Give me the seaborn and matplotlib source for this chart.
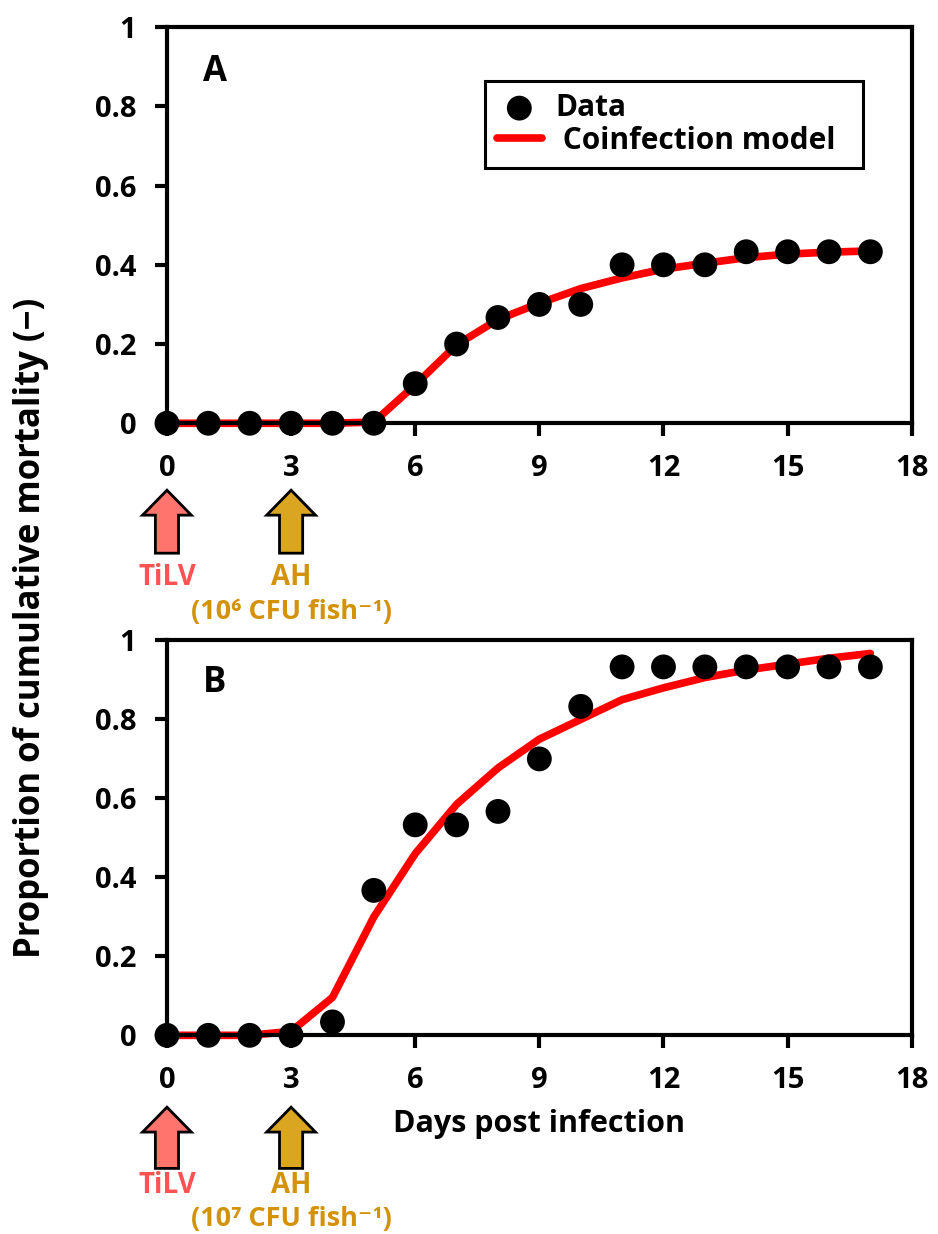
import numpy as np
import pandas as pd
import matplotlib.pyplot as plt
import seaborn as sns
from matplotlib.patches import FancyArrow
from matplotlib.transforms import blended_transform_factory

# data
days = list(range(18))
dataA = [0, 0, 0, 0, 0, 0, 0.1, 0.2, 0.267, 0.3, 0.3, 0.4, 0.4, 0.4, 0.433, 0.433, 0.433, 0.433]
modelA = [0, 0, 0, 0, 0, 0.003, 0.097, 0.198, 0.262, 0.303, 0.34, 0.367, 0.389, 0.404, 0.418, 0.427, 0.432, 0.435]
dataB = [0, 0, 0, 0, 0.034, 0.367, 0.533, 0.533, 0.567, 0.7, 0.833, 0.933, 0.933, 0.933, 0.933, 0.933, 0.933, 0.933]
modelB = [0, 0, 0, 0.01, 0.096, 0.3, 0.46, 0.585, 0.677, 0.75, 0.80, 0.85, 0.88, 0.906, 0.925, 0.94, 0.955, 0.967]
doses = ['(10\u2076 CFU fish\u207b\u00b9)', '(10\u2077 CFU fish\u207b\u00b9)']

sns.set_style('ticks', rc={'text.color': 'black', 'axes.labelcolor': 'black',
                           'xtick.color': 'black', 'ytick.color': 'black',
                           'axes.edgecolor': 'black'})
plt.rcParams['font.family'] = ['Open Sans', 'DejaVu Sans']
plt.rcParams['font.weight'] = 'bold'
plt.rcParams['font.size'] = 21

fig = plt.figure(figsize=(9.38, 12.34), dpi=100)
axA = fig.add_axes([0.178, 0.657, 0.794, 0.321])
axB = fig.add_axes([0.178, 0.161, 0.794, 0.320])

salmon = '#FF756E'
gold = '#DAA520'

panels = [(axA, dataA, modelA, 'A', 0.886, doses[0], (-0.169, -0.328), (-0.389, -0.477)),
          (axB, dataB, modelB, 'B', 0.893, doses[1], (-0.182, -0.337), (-0.38, -0.464))]

for ax, d, m, letter, ly, dose, arr, txt in panels:
    df = pd.DataFrame({'day': days, 'data': d, 'model': m})
    sns.lineplot(data=df, x='day', y='model', ax=ax, color='red', linewidth=5.5,
                 label=' Coinfection model  ', clip_on=False, zorder=2)
    sns.scatterplot(data=df, x='day', y='data', ax=ax, color='black', s=320,
                    label='Data', clip_on=False, zorder=3, edgecolor='none')
    ax.set_xlim(0, 18)
    ax.set_ylim(0, 1)
    ax.set_xticks(range(0, 19, 3))
    ax.set_yticks([0, 0.2, 0.4, 0.6, 0.8, 1])
    ax.set_yticklabels(['0', '0.2', '0.4', '0.6', '0.8', '1'])
    ax.set_xlabel('')
    ax.set_ylabel('')
    for s in ax.spines.values():
        s.set_linewidth(3)
        s.set_color('black')
    ax.tick_params(direction='out', length=9, width=3, labelsize=21, pad=13)
    ax.text(0.048, ly, letter, transform=ax.transAxes, fontsize=25, fontweight='bold',
            ha='left', va='center')

    # arrows for TiLV (day 0) and AH (day 3)
    tr = blended_transform_factory(ax.transData, ax.transAxes)
    for xpos, col in [(0, salmon), (3, gold)]:
        a = FancyArrow(xpos, arr[1], 0, arr[0] - arr[1], width=0.56, head_width=1.18,
                       head_length=0.063, length_includes_head=True, transform=tr,
                       facecolor=col, edgecolor='black', linewidth=2, clip_on=False)
        ax.add_patch(a)
    ax.text(0, txt[0], 'TiLV', transform=tr, color='#FF5252', fontsize=20,
            fontweight='bold', ha='center', va='center')
    ax.text(3, txt[0], 'AH', transform=tr, color='#D4920A', fontsize=20,
            fontweight='bold', ha='center', va='center')
    ax.text(3, txt[1], dose, transform=tr, color='#D4920A', fontsize=19.5,
            fontweight='bold', ha='center', va='center')

# legend only in top panel, data first
h, l = axA.get_legend_handles_labels()
leg = axA.legend([h[1], h[0]], [l[1], l[0]], loc='upper left', bbox_to_anchor=(0.427, 0.864),
                 borderaxespad=0, frameon=True, fancybox=False, edgecolor='black',
                 framealpha=1, fontsize=21.5, handlelength=1.5, borderpad=0.4,
                 labelspacing=0.1, handletextpad=0.45)
leg.get_frame().set_linewidth(2.2)
axB.get_legend().remove()

axB.text(9, -0.2456, 'Days post infection',
         transform=blended_transform_factory(axB.transData, axB.transAxes),
         fontsize=22, fontweight='bold', ha='center', va='baseline')
fig.text(0.033, 0.491, 'Proportion of cumulative mortality (\u2212)', rotation=90,
         fontsize=25, fontweight='bold', ha='center', va='center')

plt.savefig('out.png', dpi=100)
